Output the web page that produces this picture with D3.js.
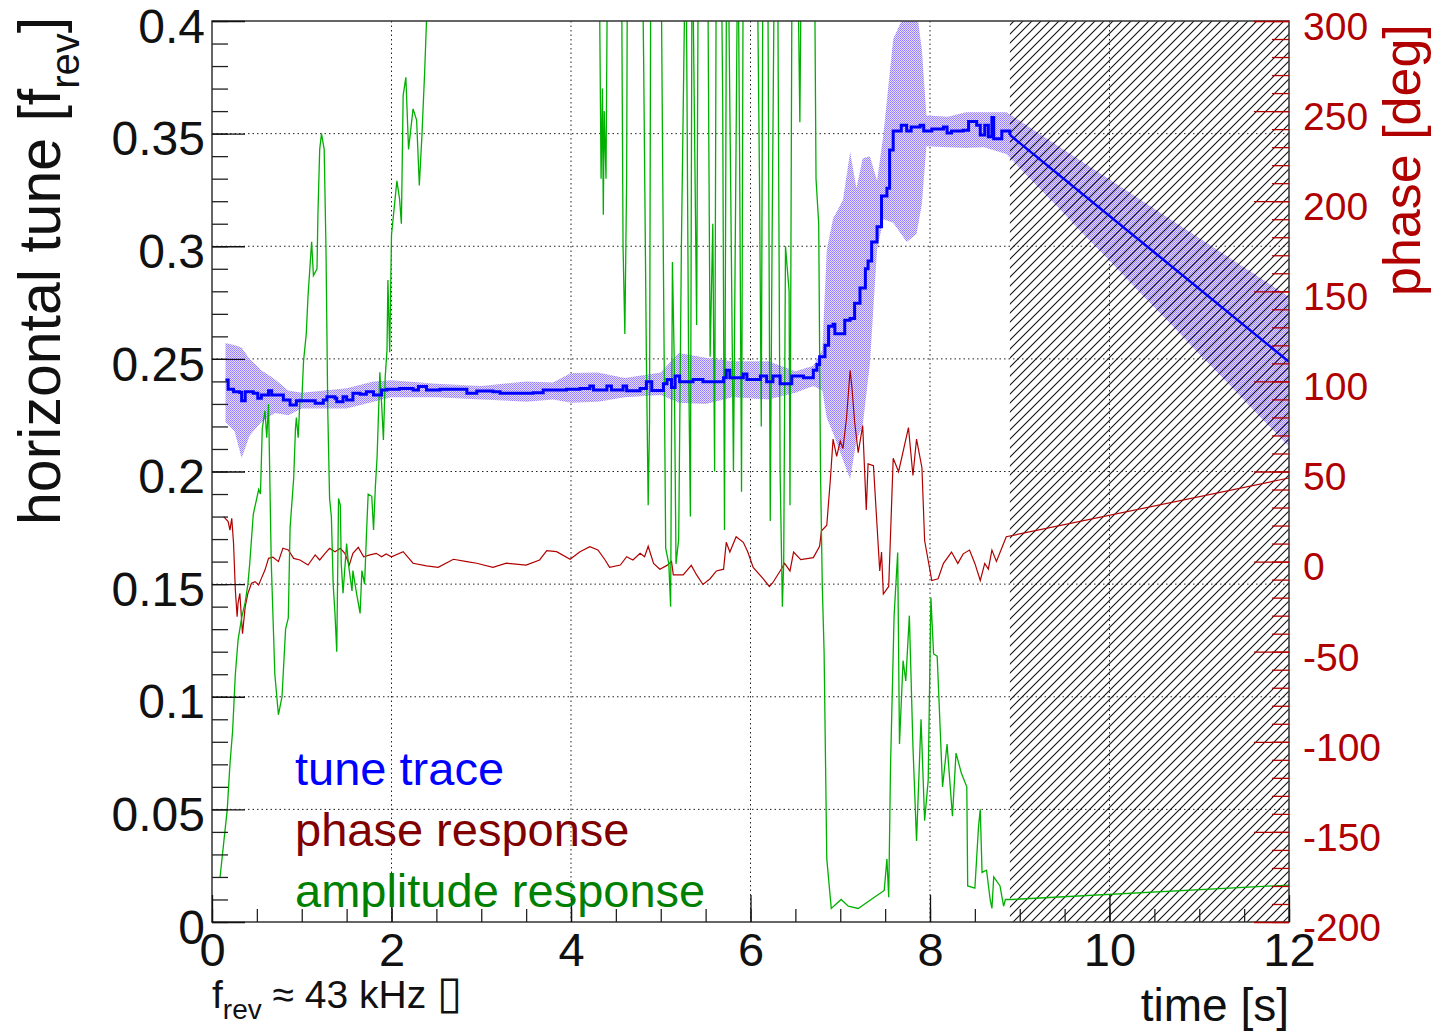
<!DOCTYPE html>
<html>
<head>
<meta charset="utf-8">
<script src="https://cdn.jsdelivr.net/npm/d3@7"></script>
<style>
  body { margin: 0; background: #fff; }
  svg { display: block; font-family: "Liberation Sans", Arial, sans-serif; }
</style>
</head>
<body>
<svg id="chart" width="1439" height="1032"></svg>
<script>
// ---- data ----
// tune trace (left axis, units of f_rev), stepped
const tuneT = [0.15,0.18,0.24,0.31,0.33,0.37,0.46,0.51,0.55,0.63,0.665,0.795,0.87,0.94,1.15,1.24,1.28,1.37,1.39,1.46,1.50,1.57,1.65,1.72,1.80,1.89,1.95,2.09,2.24,2.30,2.39,2.54,2.84,2.95,3.13,3.21,3.58,3.69,3.95,4.10,4.21,4.25,4.40,4.45,4.58,4.62,4.77,4.84,4.90,5.03,5.07,5.12,5.16,5.21,5.36,5.47,5.70,5.73,5.77,5.92,5.96,6.11,6.18,6.25,6.33,6.46,6.59,6.70,6.74,6.77,6.83,6.87,6.92,6.94,7.02,7.05,7.11,7.16,7.22,7.28,7.31,7.35,7.41,7.46,7.52,7.55,7.59,7.68,7.74,7.79,7.89,7.93,8.02,8.15,8.19,8.24,8.37,8.43,8.52,8.56,8.61,8.65,8.69,8.71,8.80,8.89];
const tuneV = [0.2406,0.2365,0.2354,0.2351,0.2314,0.2354,0.2347,0.2325,0.2340,0.2359,0.2340,0.2317,0.2295,0.2314,0.2303,0.2317,0.2332,0.2325,0.2310,0.2332,0.2317,0.2347,0.2343,0.2354,0.2340,0.2362,0.2365,0.2369,0.2362,0.2377,0.2362,0.2365,0.2347,0.2357,0.2354,0.2347,0.2350,0.2362,0.2365,0.2369,0.2380,0.2362,0.2380,0.2362,0.2380,0.2359,0.2369,0.2399,0.2360,0.2390,0.2408,0.2373,0.2424,0.2399,0.2408,0.2399,0.2416,0.2450,0.2416,0.2433,0.2408,0.2424,0.2399,0.2424,0.2390,0.2424,0.2416,0.2450,0.2475,0.2509,0.2560,0.2645,0.2654,0.2611,0.2611,0.2671,0.2679,0.2747,0.2815,0.2900,0.2934,0.3019,0.3087,0.3223,0.3257,0.3427,0.3512,0.3537,0.3512,0.3529,0.3537,0.3512,0.3520,0.3529,0.3503,0.3512,0.3515,0.3554,0.3537,0.3494,0.3537,0.3486,0.3572,0.3477,0.3512,0.3494];

// extrapolated tune after the end of the measurement
const rampT = [8.89, 12];
const rampV = [0.3494, 0.2487];

// uncertainty band of the tune
const bandT  = [0.15,0.25,0.33,0.42,0.55,0.70,0.85,1.00,1.50,1.80,2.00,2.50,3.00,3.50,3.80,4.00,4.30,4.60,5.00,5.20,5.50,5.80,6.20,6.50,6.70,6.80,6.85,6.92,7.03,7.11,7.18,7.25,7.33,7.41,7.48,7.59,7.74,7.85,7.91,7.96,8.20,8.40,8.60,8.85,12.0];
const bandLo = [0.222,0.218,0.206,0.216,0.222,0.226,0.225,0.228,0.228,0.231,0.233,0.233,0.232,0.231,0.232,0.2305,0.231,0.233,0.234,0.2305,0.230,0.233,0.232,0.235,0.238,0.236,0.2237,0.2171,0.2051,0.1967,0.2135,0.2204,0.2477,0.2985,0.312,0.3104,0.3019,0.3054,0.319,0.3444,0.344,0.3436,0.344,0.341,0.211];
const bandHi = [0.257,0.256,0.255,0.250,0.245,0.241,0.236,0.235,0.237,0.240,0.2405,0.239,0.238,0.240,0.2395,0.2437,0.244,0.2415,0.244,0.2526,0.2505,0.249,0.249,0.2445,0.247,0.254,0.2985,0.3123,0.3205,0.3418,0.3258,0.3391,0.340,0.3291,0.3494,0.392,0.405,0.405,0.387,0.358,0.3575,0.3595,0.3595,0.3595,0.2776];

// phase response (right axis, degrees)
const phaseT = [0.13,0.18,0.20,0.22,0.24,0.26,0.28,0.29,0.31,0.34,0.37,0.40,0.44,0.48,0.52,0.55,0.59,0.63,0.68,0.74,0.79,0.85,0.91,0.98,1.07,1.15,1.20,1.26,1.31,1.37,1.43,1.48,1.53,1.57,1.63,1.69,1.76,1.83,1.89,1.94,2.00,2.13,2.24,2.39,2.52,2.69,2.84,2.95,3.13,3.28,3.50,3.65,3.73,3.84,3.99,4.10,4.21,4.30,4.38,4.43,4.55,4.62,4.69,4.77,4.82,4.86,4.92,4.99,5.07,5.12,5.14,5.25,5.34,5.40,5.47,5.55,5.62,5.70,5.73,5.77,5.84,5.92,5.97,6.03,6.14,6.21,6.25,6.33,6.38,6.44,6.48,6.56,6.70,6.77,6.79,6.85,6.89,6.92,6.96,7.00,7.03,7.07,7.11,7.13,7.16,7.20,7.25,7.29,7.31,7.37,7.44,7.46,7.48,7.54,7.59,7.65,7.76,7.81,7.85,7.91,7.94,8.02,8.09,8.15,8.24,8.31,8.37,8.44,8.50,8.56,8.61,8.65,8.69,8.74,8.80,8.85,12.0];
const phaseV = [25.0,22.2,17.5,24.0,10.2,-15.8,-30.6,-23.1,-17.6,-40.0,-25.0,-17.6,-12.0,-11.1,-13.0,-9.3,-4.7,1.8,2.4,0.0,7.4,6.5,1.8,0.9,-1.9,3.7,0.9,4.6,7.4,5.5,7.4,4.6,-1.9,4.6,7.9,2.7,3.7,4.6,2.7,4.2,2.7,5.5,-0.9,-2.4,-3.2,1.3,0.0,-0.9,-3.2,-0.9,-1.9,0.9,6.1,5.5,1.3,5.5,8.3,6.5,0.9,-3.2,-1.9,2.7,0.9,4.6,2.7,8.5,-1.0,-4.2,-2.1,0.1,-7.4,-7.4,-2.1,-7.4,-12.7,-9.5,-5.2,-4.2,10.7,5.3,13.8,10.7,5.3,-3.2,-9.5,-13.8,-11.6,-5.2,-1.0,-5.2,5.3,1.1,2.2,8.5,17.0,20.2,45.7,68.0,58.4,66.9,62.7,79.7,106.2,96.7,77.6,60.5,75.5,28.7,54.2,53.2,-5.2,5.3,-18.0,-13.8,57.4,49.9,74.4,47.8,68.0,52.1,11.7,-10.5,-9.5,-1.0,5.3,-1.0,4.3,6.4,-1.0,-10.5,-1.0,-4.2,6.4,0.1,7.5,13.8,46.4];

// amplitude response (drawn on the left scale, clipped at the frame)
const ampT = [0.09,0.13,0.17,0.20,0.23,0.26,0.29,0.33,0.37,0.40,0.42,0.46,0.52,0.54,0.56,0.59,0.61,0.63,0.66,0.70,0.74,0.78,0.82,0.85,0.87,0.91,0.93,0.94,0.96,0.98,1.00,1.02,1.05,1.07,1.11,1.13,1.17,1.18,1.20,1.22,1.25,1.27,1.29,1.31,1.33,1.35,1.37,1.39,1.41,1.43,1.44,1.46,1.50,1.52,1.56,1.57,1.61,1.65,1.67,1.70,1.72,1.74,1.78,1.80,1.82,1.84,1.87,1.89,1.91,1.93,1.95,1.96,1.98,2.00,2.06,2.09,2.11,2.13,2.16,2.19,2.24,2.28,2.31,2.34,2.37,2.39,2.42,
  4.31,4.335,4.35,4.36,4.37,4.39,4.41,4.56,4.58,4.60,4.62,4.63,4.79,4.81,4.84,4.86,4.875,4.89,5.00,5.03,5.055,5.09,5.11,5.13,5.15,5.17,5.20,5.23,5.28,5.31,5.33,5.35,5.40,5.42,5.52,5.55,5.58,5.60,5.62,5.67,5.69,5.71,5.735,5.76,5.78,5.81,5.83,5.86,5.88,5.90,5.92,6.07,6.10,6.12,6.14,6.19,6.22,6.24,6.27,6.30,6.33,6.355,6.37,6.39,6.43,6.44,6.46,6.49,6.52,6.55,6.57,6.71,6.73,6.76,6.78,6.80,6.82,6.85,6.90,
  7.01,7.09,7.20,7.38,7.49,7.52,7.54,7.56,7.60,7.64,7.66,7.70,7.73,7.77,7.81,7.85,7.90,7.94,7.98,8.01,8.04,8.08,8.14,8.19,8.25,8.29,8.35,8.41,8.42,8.50,8.54,8.56,8.58,8.63,8.67,8.69,8.71,8.78,8.82,8.84,8.91,12.0];
const ampV = [0.020,0.035,0.050,0.070,0.085,0.110,0.125,0.135,0.142,0.150,0.159,0.181,0.192,0.190,0.219,0.227,0.215,0.230,0.160,0.110,0.092,0.100,0.130,0.135,0.175,0.197,0.219,0.224,0.215,0.232,0.231,0.249,0.261,0.278,0.302,0.287,0.290,0.314,0.343,0.350,0.343,0.299,0.227,0.188,0.180,0.150,0.137,0.120,0.188,0.185,0.159,0.146,0.168,0.159,0.147,0.156,0.146,0.137,0.156,0.150,0.171,0.190,0.189,0.174,0.193,0.207,0.244,0.230,0.214,0.242,0.254,0.285,0.253,0.305,0.329,0.321,0.310,0.367,0.375,0.343,0.361,0.356,0.327,0.350,0.378,0.400,0.450,
  0.450,0.330,0.370,0.314,0.360,0.330,0.450,0.450,0.300,0.261,0.330,0.450,0.450,0.380,0.250,0.185,0.222,0.450,0.450,0.290,0.166,0.159,0.140,0.293,0.250,0.159,0.170,0.300,0.450,0.250,0.180,0.450,0.265,0.450,0.450,0.251,0.310,0.200,0.450,0.450,0.366,0.174,0.450,0.400,0.324,0.200,0.300,0.450,0.330,0.191,0.450,0.450,0.330,0.220,0.450,0.450,0.178,0.300,0.450,0.450,0.200,0.140,0.160,0.300,0.280,0.185,0.400,0.450,0.450,0.355,0.450,0.450,0.330,0.310,0.200,0.149,0.120,0.028,0.006,
  0.010,0.007,0.006,0.011,0.014,0.028,0.011,0.069,0.136,0.164,0.079,0.116,0.107,0.136,0.078,0.036,0.090,0.045,0.063,0.144,0.119,0.118,0.060,0.079,0.047,0.075,0.066,0.060,0.016,0.015,0.042,0.050,0.022,0.023,0.010,0.006,0.020,0.016,0.007,0.010,0.010,0.0164];

// shaded region after the measurement ends
const hatchStart = 8.89;

// axis ticks
const tuneTicks  = [0, 0.05, 0.1, 0.15, 0.2, 0.25, 0.3, 0.35, 0.4];
const timeTicks  = [0, 2, 4, 6, 8, 10, 12];
const phaseTicks = [-200, -150, -100, -50, 0, 50, 100, 150, 200, 250, 300];

const legendLabels = ["tune trace", "phase response", "amplitude response"];
const legendColors = ["#0000ff", "#800000", "#008000"];

// ---- layout ----
const svg = d3.select("#chart");
const mLeft = 212, mRight = 1289, mTop = 21, mBottom = 922;
const FONT = "'Liberation Sans', Arial, sans-serif";

const x  = d3.scaleLinear().domain([0, 12]).range([mLeft, mRight]);
const y  = d3.scaleLinear().domain([0, 0.4]).range([mBottom, mTop]);
const yR = d3.scaleLinear().domain([-200, 300]).range([mBottom, mTop]);

const defs = svg.append("defs");
defs.append("clipPath").attr("id", "plotClip")
  .append("rect")
  .attr("x", mLeft).attr("y", mTop)
  .attr("width", mRight - mLeft).attr("height", mBottom - mTop);

// dotted fill of the error band
const dots = defs.append("pattern")
  .attr("id", "dots")
  .attr("patternUnits", "userSpaceOnUse")
  .attr("width", 2).attr("height", 2);
dots.append("rect").attr("width", 2).attr("height", 2).attr("fill", "#e2dcff");
dots.append("rect").attr("width", 1).attr("height", 1).attr("fill", "#9479ff");
dots.append("rect").attr("x", 1).attr("y", 1).attr("width", 1).attr("height", 1).attr("fill", "#a690ff");

// diagonal hatch
defs.append("pattern")
  .attr("id", "hatch")
  .attr("patternUnits", "userSpaceOnUse")
  .attr("width", 9).attr("height", 9)
  .append("path")
  .attr("d", "M-1,1 l2,-2 M0,9 l9,-9 M8,10 l2,-2")
  .attr("stroke", "#111")
  .attr("stroke-width", 1.1);

// grid
const grid = svg.append("g").attr("stroke", "#222").attr("stroke-width", 1)
  .attr("stroke-dasharray", "1.5,3");
grid.selectAll("line.gx")
  .data(timeTicks.filter(d => d > 0 && d < 12))
  .enter().append("line")
  .attr("x1", d => x(d)).attr("x2", d => x(d))
  .attr("y1", mTop).attr("y2", mBottom);
grid.selectAll("line.gy")
  .data(tuneTicks.filter(d => d > 0 && d < 0.4))
  .enter().append("line")
  .attr("x1", mLeft).attr("x2", mRight)
  .attr("y1", d => y(d)).attr("y2", d => y(d));

const plot = svg.append("g").attr("clip-path", "url(#plotClip)");

// error band
const band = bandT.map((t, i) => ({ t, lo: bandLo[i], hi: bandHi[i] }));
plot.append("path")
  .datum(band)
  .attr("fill", "url(#dots)")
  .attr("d", d3.area().x(d => x(d.t)).y0(d => y(d.lo)).y1(d => y(d.hi)));

// hatched region
plot.append("rect")
  .attr("x", x(hatchStart)).attr("y", mTop)
  .attr("width", x(12) - x(hatchStart)).attr("height", mBottom - mTop)
  .attr("fill", "url(#hatch)");

// phase response
const phase = phaseT.map((t, i) => ({ t, v: phaseV[i] }));
plot.append("path")
  .datum(phase)
  .attr("fill", "none")
  .attr("stroke", "#b00000")
  .attr("stroke-width", 1.2)
  .attr("d", d3.line().x(d => x(d.t)).y(d => yR(d.v)));

// amplitude response
const amp = ampT.map((t, i) => ({ t, v: ampV[i] }));
plot.append("path")
  .datum(amp)
  .attr("fill", "none")
  .attr("stroke", "#00b000")
  .attr("stroke-width", 1.3)
  .attr("d", d3.line().x(d => x(d.t)).y(d => y(d.v)));

// tune trace
const tune = tuneT.map((t, i) => ({ t, v: tuneV[i] }));
plot.append("path")
  .datum(tune)
  .attr("fill", "none")
  .attr("stroke", "#0000ff")
  .attr("stroke-width", 3)
  .attr("d", d3.line().curve(d3.curveStepAfter).x(d => x(d.t)).y(d => y(d.v)));

const ramp = rampT.map((t, i) => ({ t, v: rampV[i] }));
plot.append("path")
  .datum(ramp)
  .attr("fill", "none")
  .attr("stroke", "#0000ff")
  .attr("stroke-width", 2.4)
  .attr("d", d3.line().x(d => x(d.t)).y(d => y(d.v)));

// frame
svg.append("rect")
  .attr("x", mLeft).attr("y", mTop)
  .attr("width", mRight - mLeft).attr("height", mBottom - mTop)
  .attr("fill", "none")
  .attr("stroke", "#333")
  .attr("stroke-width", 1.5);

// ---- axes ----
function styleAxis(g, color, size) {
  g.select(".domain").remove();
  g.selectAll("line").attr("stroke", color).attr("stroke-width", 1.3);
  g.selectAll("text").attr("fill", color).attr("font-size", size).attr("font-family", FONT);
}

const minorTune = d3.range(0, 41).map(i => i / 100);
svg.append("g").attr("transform", `translate(${mLeft},0)`)
  .call(d3.axisLeft(y).tickValues(minorTune).tickSize(-16).tickFormat(""))
  .call(g => styleAxis(g, "#222", 0));
svg.append("g").attr("transform", `translate(${mLeft},0)`)
  .call(d3.axisLeft(y).tickValues(tuneTicks).tickSize(-33).tickPadding(7)
    .tickFormat(d => d === 0 ? "0" : String(+d.toFixed(2))))
  .call(g => styleAxis(g, "#111", 48))
  .call(g => g.selectAll("text").attr("dy", "0.44em"));

const minorTime = d3.range(0, 25).map(i => i / 2);
svg.append("g").attr("transform", `translate(0,${mBottom})`)
  .call(d3.axisBottom(x).tickValues(minorTime).tickSize(-13).tickFormat(""))
  .call(g => styleAxis(g, "#222", 0));
svg.append("g").attr("transform", `translate(0,${mBottom})`)
  .call(d3.axisBottom(x).tickValues(timeTicks).tickSize(-27).tickPadding(11).tickFormat(d => String(d)))
  .call(g => styleAxis(g, "#111", 47));

const minorPhase = d3.range(-200, 301, 10);
svg.append("g").attr("transform", `translate(${mRight},0)`)
  .call(d3.axisRight(yR).tickValues(minorPhase).tickSize(-17).tickFormat(""))
  .call(g => styleAxis(g, "#b00000", 0));
svg.append("g").attr("transform", `translate(${mRight},0)`)
  .call(d3.axisRight(yR).tickValues(phaseTicks).tickSize(-35).tickPadding(14).tickFormat(d => String(d)))
  .call(g => styleAxis(g, "#b00000", 39))
  .call(g => g.selectAll("text").attr("dy", "0.47em"));

// ---- titles ----
const yTitle = svg.append("text")
  .attr("transform", "translate(60,525) rotate(-90)")
  .attr("font-family", FONT).attr("font-size", 59).attr("fill", "#111");
yTitle.append("tspan").text("horizontal tune [f");
yTitle.append("tspan").attr("font-size", 40).attr("dy", 19).text("rev");
yTitle.append("tspan").attr("dy", -19).text("]");

svg.append("text")
  .attr("transform", "translate(1420,296) rotate(-90)")
  .attr("font-family", FONT).attr("font-size", 52).attr("fill", "#b00000")
  .text("phase [deg]");

svg.append("text")
  .attr("x", mRight).attr("y", 1021)
  .attr("text-anchor", "end")
  .attr("font-family", FONT).attr("font-size", 46).attr("fill", "#111")
  .text("time [s]");

const note = svg.append("text")
  .attr("x", 212).attr("y", 1008)
  .attr("font-family", FONT).attr("font-size", 39).attr("fill", "#111");
note.append("tspan").text("f");
note.append("tspan").attr("font-size", 28).attr("dy", 11).text("rev");
note.append("tspan").attr("dy", -11).text(" \u2248 43 kHz ");
note.append("tspan").attr("font-family", "'DejaVu Sans'").attr("font-size", 46).text("\u25AF");

// legend
svg.append("g").selectAll("text")
  .data(legendLabels)
  .enter().append("text")
  .attr("x", 295)
  .attr("y", (d, i) => 785 + i * 61)
  .attr("font-family", FONT).attr("font-size", 47)
  .attr("fill", (d, i) => legendColors[i])
  .text(d => d);
</script>
</body>
</html>
